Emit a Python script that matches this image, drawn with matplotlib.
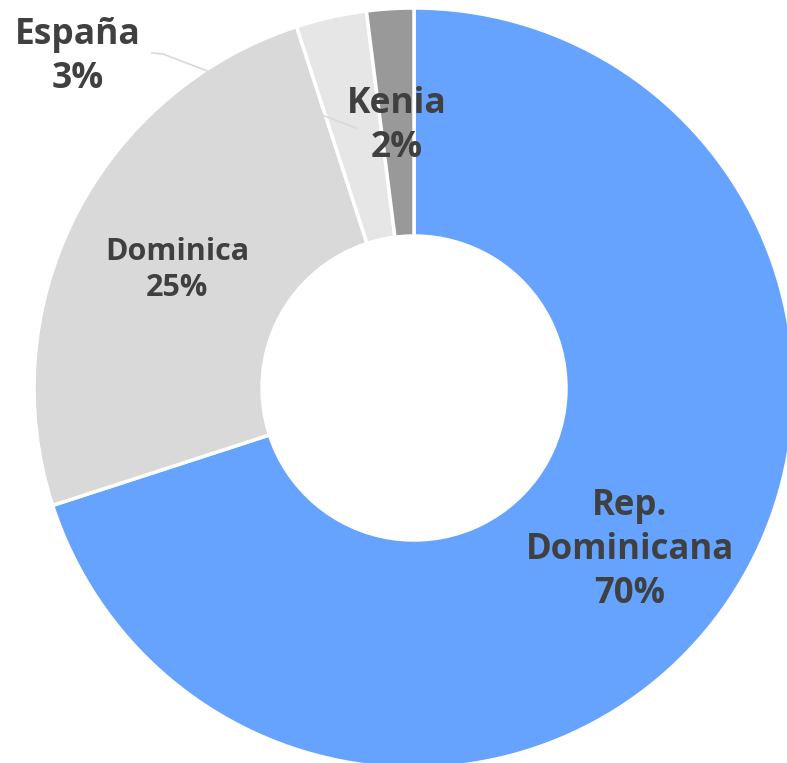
import matplotlib.pyplot as plt

# slice data, clockwise from 12 o'clock
countries = ['Rep.\nDominicana', 'Dominica', 'España', 'Kenia']
shares = [70, 25, 3, 2]
colors = ['#66a3ff', '#d9d9d9', '#e6e6e6', '#999999']

W, H = 787, 763
fig = plt.figure(figsize=(W / 100, H / 100), dpi=100)
ax = fig.add_axes([0, 0, 1, 1])

cx, cy = 414, H - 388
r_out, r_in = 380, 152

ax.pie(shares, colors=colors, startangle=90, counterclock=False,
       center=(cx, cy), radius=r_out,
       wedgeprops=dict(width=r_out - r_in, edgecolor='white', linewidth=2.5))
ax.set_xlim(0, W)
ax.set_ylim(0, H)
ax.set_aspect('equal')
ax.axis('off')

txt = dict(color='#404040', fontweight='bold', family='Open Sans',
           ha='center', va='center', linespacing=1.3)

ax.text(630, H - 550, f'{countries[0]}\n{shares[0]}%', fontsize=25, **txt)
ax.text(177, H - 270, f'{countries[1]}\n{shares[1]}%', fontsize=22, **txt)
ax.text(78, H - 57, f'{countries[2]}\n{shares[2]}%', fontsize=25.5, **txt)
ax.text(397, H - 126, f'{countries[3]}\n{shares[3]}%', fontsize=25.5, **txt)

# leader line for España
ax.plot([152, 163, 356], [H - 53, H - 54, H - 128], color='#d9d9d9', lw=1.2)

fig.savefig('out.png', dpi=100)
